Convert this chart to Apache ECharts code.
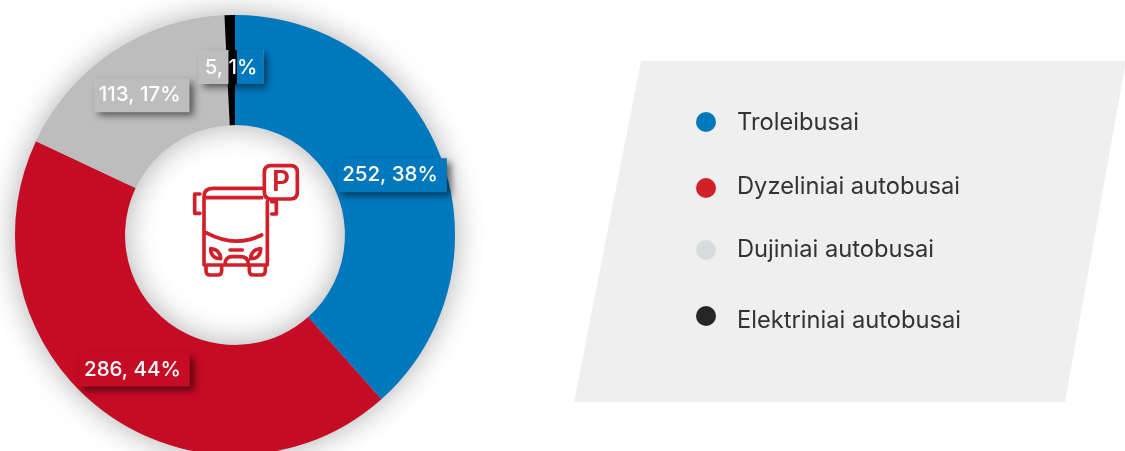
<!DOCTYPE html>
<html>
<head>
<meta charset="utf-8">
<style>
  html, body { margin: 0; padding: 0; background: #fff; }
  #chart { width: 1125px; height: 451px; }
</style>
<script src="https://cdn.jsdelivr.net/npm/echarts@6/dist/echarts.min.js"></script>
</head>
<body>
<div id="chart"></div>
<script>
const categories = ['Troleibusai', 'Dyzeliniai autobusai', 'Dujiniai autobusai', 'Elektriniai autobusai']
const values = [252, 286, 113, 5]

// spalvos
const sliceColors = ['#0078bd', '#c60b25', '#bdbdbd', '#000000']
const legendColors = ['#0078bd', '#d2202a', '#d8dcdc', '#262626']
const FONT = 'Inter, Roboto, sans-serif'
const RED = '#d2202a'

const total = values.reduce((a, b) => a + b, 0)
const CENTER = [235, 235]
const RADIUS = [110, 220]

const BUS_ICON = 'M245 115 L98 115 Q72 115 72 140 L72 345 M72 143 L245 143 M262 155 L262 345 M72 345 L262 345' +
  ' M78 248 Q165 295 245 255' +
  ' M60 132 L44 132 L44 190 L60 190 M275 155 L289 155 L289 192 L275 192' +
  ' M78 345 L78 362 Q78 375 92 375 L112 375 Q125 375 125 362 L125 350' +
  ' M208 350 L208 362 Q208 375 221 375 L242 375 Q256 375 256 362 L256 345' +
  ' M135 342 C135 327 145 320 157 320 L180 320 C195 320 205 327 205 342' +
  ' M150 300 L187 300' +
  ' M92 296 C112 298 122 310 122 326 C102 326 92 314 92 296 Z' +
  ' M242 296 C222 298 212 310 212 326 C232 326 242 314 242 296 Z' +
  ' M273 47 L332 47 Q352 47 352 67 L352 127 Q352 147 332 147 L273 147 Q253 147 253 127 L253 67 Q253 47 273 47 Z'

const labelFont = { fontFamily: FONT, fontSize: 20.5, fontWeight: 500, color: '#fff' }
const legendFont = { fontFamily: FONT, fontSize: 23.7, lineHeight: 28, color: '#333' }

// etiketes dezute su seseliu
const boxLabel = (color) => ({
  ...labelFont,
  show: true,
  position: 'inside',
  formatter: '{c}, {d}%',
  backgroundColor: color,
  padding: [7, 9, 6, 5],
  shadowColor: 'rgba(0,0,0,0.55)',
  shadowBlur: 7,
  shadowOffsetX: 4,
  shadowOffsetY: 4
})

// 5, 1% dezute guli ant triju sektoriu: pilka, juoda, melyna
const smallBoxLabel = {
  ...boxLabel(sliceColors[2]),
  formatter: (p) => {
    const pct = String(p.percent)
    return `{a|${p.value}, }{k|${pct[0]}}{b|${pct.slice(1)}%}`
  },
  padding: 0,
  rich: {
    a: { ...labelFont, backgroundColor: sliceColors[2], padding: [7, 0, 6, 6] },
    k: { ...labelFont, backgroundColor: sliceColors[3], padding: [7, 0, 6, 0] },
    b: { ...labelFont, backgroundColor: sliceColors[0], padding: [7, 6, 6, 0] }
  }
}

const legendTops = [103, 169, 231, 294]
const legendPad = [[2, 0, 0, 16], [0, 0, 3, 16], [0, 0, 1, 16], [10, 0, 0, 16]]

const option = {
  backgroundColor: '#fff',
  animation: false,
  legend: categories.map((name, i) => ({
    left: 691,
    top: legendTops[i],
    icon: 'circle',
    itemWidth: 20,
    itemHeight: 20,
    selectedMode: false,
    data: [{ name, itemStyle: { color: legendColors[i] } }],
    formatter: '{t|{name}}',
    textStyle: { ...legendFont, rich: { t: { ...legendFont, padding: legendPad[i] } } }
  })),
  graphic: [
    {
      type: 'polygon',
      z: -1,
      silent: true,
      shape: { points: [[641, 61], [1126, 61], [1065, 402], [574, 402]] },
      style: { fill: '#efefef' }
    }
  ],
  series: [
    // seselis po visu ziedu
    {
      type: 'pie',
      z: 1,
      silent: true,
      center: CENTER,
      radius: RADIUS,
      label: { show: false },
      labelLine: { show: false },
      itemStyle: { color: '#bdbdbd', shadowColor: 'rgba(0,0,0,0.32)', shadowBlur: 30, shadowOffsetX: 0, shadowOffsetY: 0 },
      data: [{ name: 'total', value: total }]
    },
    {
      type: 'pie',
      z: 2,
      silent: true,
      center: CENTER,
      radius: RADIUS,
      startAngle: 90,
      clockwise: true,
      percentPrecision: 0,
      avoidLabelOverlap: false,
      labelLine: { show: false },
      data: categories.map((name, i) => ({
        name,
        value: values[i],
        itemStyle: { color: sliceColors[i] },
        label: i === 3 ? smallBoxLabel : boxLabel(sliceColors[i])
      }))
    },
    // autobuso ikona centre
    {
      type: 'custom',
      coordinateSystem: 'none',
      z: 4,
      silent: true,
      data: [0],
      renderItem: () => ({
        type: 'group',
        x: 180,
        y: 150,
        scaleX: 1 / 3,
        scaleY: 1 / 3,
        children: [
          {
            type: 'path',
            shape: { pathData: BUS_ICON },
            style: { fill: 'none', stroke: RED, lineWidth: 11, lineCap: 'round', lineJoin: 'round' }
          },
          {
            type: 'text',
            x: 303,
            y: 97,
            style: { text: 'P', fontFamily: FONT, fontSize: 84, fontWeight: 600, fill: RED, align: 'center', verticalAlign: 'middle' }
          }
        ]
      })
    }
  ]
}

const myChart = echarts.init(document.getElementById('chart'), null, { renderer: 'canvas' })
myChart.setOption(option)
</script>
</body>
</html>
